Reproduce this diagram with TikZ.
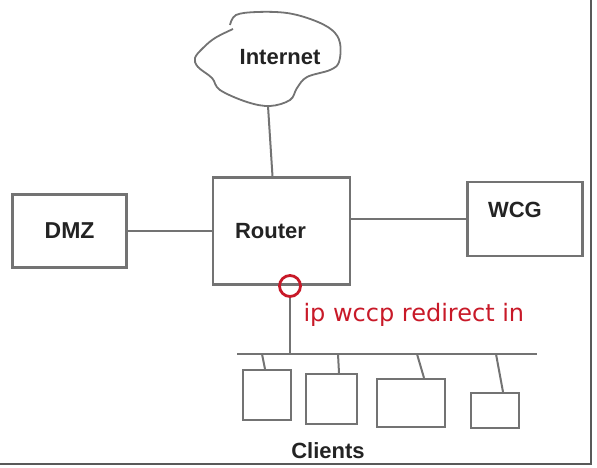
\documentclass[tikz,border=0pt]{standalone}
\usepackage{fontspec}
\setmainfont{Liberation Sans}
\newfontfamily\notefont{DejaVu Sans}
\usetikzlibrary{positioning}
\definecolor{wire}{RGB}{115,115,115}
\definecolor{mark}{RGB}{200,25,40}
\definecolor{ink}{RGB}{35,35,35}

\begin{document}
\begin{tikzpicture}[
    x=1pt, y=-1pt,
    every node/.style={font=\bfseries\fontsize{22}{24}\selectfont, text=ink},
    box/.style={rectangle, draw=wire, line width=2.4pt, inner sep=0pt},
    client/.style={box, line width=2.2pt},
    wireline/.style={draw=wire, line width=2pt},
    tapcircle/.style={circle, draw=mark, line width=2.8pt, minimum size=21pt, inner sep=0pt}
]
\useasboundingbox (0,0) rectangle (597,467);

% Nodes
\node[box, minimum width=137pt, minimum height=107pt,
      label={[xshift=-11pt]center:Router}] (router) at (281.5,231) {};
\node[box, minimum width=114pt, minimum height=73pt, left=84pt of router] (dmz) {\fontsize{23}{24}\selectfont DMZ};
\node[box, minimum width=115pt, minimum height=74pt, right=115pt of router, yshift=12pt,
      label={[yshift=9pt, xshift=-10pt]center:WCG}] (wcg) {};
\node (internet) at (280,57) {Internet};
\node[tapcircle] (tap) at (290,286) {};
\node[anchor=base west, font=\notefont\fontsize{24}{26}\selectfont, text=mark] (note) at (300,321) {ip wccp redirect in};
\node[client, minimum width=48pt, minimum height=50pt] (c1) at (267,395) {};
\node[client, minimum width=51pt, minimum height=50pt] (c2) at (331.5,399) {};
\node[client, minimum width=68pt, minimum height=48pt] (c3) at (411,403) {};
\node[client, minimum width=48pt, minimum height=35pt] (c4) at (495,410.5) {};
\node (clients) at (328,451) {Clients};
\coordinate (cloudbot) at (268,106);
\coordinate (busL) at (237,354);
\coordinate (busR) at (537,354);

% Cloud
\draw[wireline, line width=1.8pt] plot[smooth, tension=0.6] coordinates {
  (230,25) (236,15) (257,12) (287,13) (313,20) (332,30) (340,43) (339,62)
  (330,70) (307,77) (297,88) (290,100) (270,106) (247,102) (220,90) (212,78)
  (198,67) (195,58) (203,48) (215,38) (233,29)};

% Edges
\draw[wireline] (cloudbot) -- ([xshift=-9pt]router.north);
\draw[wireline] (dmz) -- (router);
\draw[wireline] (router.east |- wcg.west) -- (wcg.west);
\draw[wireline] (tap.south) -- (tap.south |- busL);
\draw[wireline] (busL) -- (busR);
\foreach \n/\a/\b in {c1/-5/-2, c2/6.5/7.5, c3/6/13, c4/1/8}
  \draw[wireline] ([xshift=\a pt]\n.north |- busL) -- ([xshift=\b pt]\n.north);

% Frame
\draw[gray!70!black, line width=2.5pt] (591,0) -- (591,464) -- (0,464);

\end{tikzpicture}
\end{document}
